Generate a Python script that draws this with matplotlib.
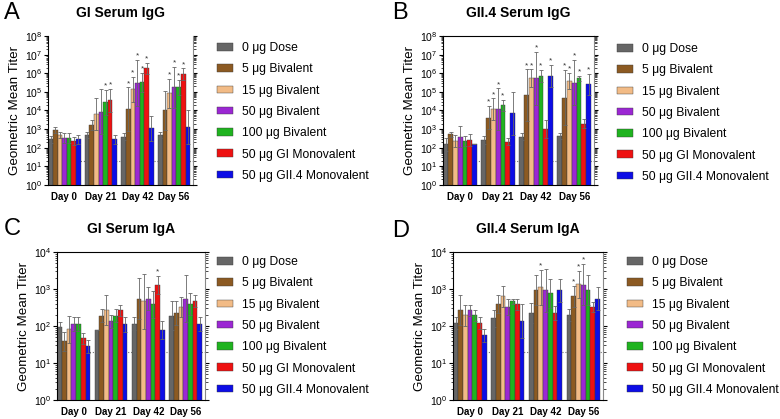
import matplotlib
matplotlib.use("Agg")
import numpy as np
import matplotlib.pyplot as plt

plt.rcParams["font.family"] = ["Liberation Sans", "DejaVu Sans"]
plt.rcParams["mathtext.fontset"] = "custom"
plt.rcParams["mathtext.rm"] = "Liberation Sans"

days = ["Day 0", "Day 21", "Day 42", "Day 56"]
groups = ["0 \u03bcg Dose", "5 \u03bcg Bivalent", "15 \u03bcg Bivalent", "50 \u03bcg Bivalent",
          "100 \u03bcg Bivalent", "50 \u03bcg GI Monovalent", "50 \u03bcg GII.4 Monovalent"]
colors = ["#666666", "#8c5a22", "#f2bb86", "#9b27d3", "#1fb31f", "#ee1111", "#0d0de6"]

# GI serum IgG: mean titer per group (rows) at each day (cols), and top of error bar
gi_igg = [[280, 480, 400, 480],
          [900, 1650, 12000, 10000],
          [480, 6200, 135000, 83000],
          [320, 8700, 290000, 175000],
          [320, 27000, 320000, 175000],
          [230, 36000, 1800000, 900000],
          [280, 280, 1100, 1300]]
gi_igg_hi = [[450, 700, 600, 700],
             [1350, 3000, 175000, 115000],
             [730, 45000, 650000, 500000],
             [600, 135000, 5000000, 2200000],
             [600, 130000, 1000000, 450000],
             [400, 150000, 3700000, 1800000],
             [500, 500, 5000, 10000]]
# groups marked with * at each day
gi_igg_star = [[], [4, 5], [1, 2, 3, 4, 5], [2, 3, 4, 5]]

gii_igg = [[150, 260, 390, 450],
           [530, 4100, 68000, 49000],
           [230, 11500, 530000, 380000],
           [390, 11500, 530000, 310000],
           [230, 19000, 700000, 530000],
           [260, 210, 1000, 2000],
           [150, 7000, 700000, 250000]]
gii_igg_hi = [[320, 420, 600, 650],
              [730, 17000, 1600000, 1500000],
              [500, 45000, 1600000, 1000000],
              [1450, 155000, 14000000, 5000000],
              [450, 37000, 1500000, 700000],
              [520, 320, 3000, 3700],
              [150, 100000, 2800000, 900000]]
gii_igg_star = [[], [1, 2, 3, 4], [1, 2, 3, 4, 6], [1, 2, 3, 4, 6]]

gi_iga = [[96, 78, 116, 190],
          [39, 187, 550, 225],
          [81, 264, 465, 325],
          [111, 134, 550, 550],
          [111, 187, 385, 390],
          [47, 264, 1300, 465],
          [28, 111, 80, 115]]
gi_iga_hi = [[130, 78, 170, 465],
             [70, 280, 2000, 465],
             [187, 670, 2600, 590],
             [170, 200, 1150, 2350],
             [170, 280, 900, 780],
             [66, 380, 2250, 670],
             [43, 175, 140, 175]]
gi_iga_star = [[], [], [5], []]

gii_iga = [[117, 160, 225, 195],
           [270, 390, 920, 630],
           [195, 630, 1100, 1350],
           [270, 330, 920, 1300],
           [195, 465, 760, 940],
           [117, 390, 225, 330],
           [56, 137, 930, 550]]
gii_iga_hi = [[170, 275, 410, 280],
              [680, 680, 2350, 1200],
              [380, 1180, 3300, 3100],
              [380, 550, 3500, 4700],
              [275, 550, 1900, 2350],
              [170, 550, 340, 450],
              [85, 390, 1900, 1100]]
gii_iga_star = [[], [], [2], [1, 2, 3]]

W, H = 780, 419
fig = plt.figure(figsize=(W / 100, H / 100), dpi=100)


def px_axes(left, top, right, bottom):
    return fig.add_axes([left / W, 1 - bottom / H, (right - left) / W, (bottom - top) / H])


def draw_panel(ax, means, highs, stars, ymax, title, top_spine=True):
    means = np.array(means, dtype=float)
    highs = np.array(highs, dtype=float)
    w = 0.126
    x = np.arange(len(days))
    bars = []
    for i in range(len(groups)):
        xi = x + (i - 3) * w
        m = means[i]
        hi = np.maximum(highs[i], m)
        lo = m * m / hi
        b = ax.bar(xi, m, width=w, color=colors[i], edgecolor="#3a3a3a", linewidth=0.3,
                   label=groups[i], zorder=2)
        ax.errorbar(xi, m, yerr=[m - lo, hi - m], fmt="none", ecolor="#666666",
                    elinewidth=0.6, capsize=1.2, capthick=0.6, zorder=3)
        bars.append(b)
    for d, idx in enumerate(stars):
        for i in idx:
            hi = max(highs[i][d], means[i][d])
            ax.text(d + (i - 3) * w, hi * 1.05, "*", ha="center", va="bottom",
                    fontsize=6, color="#333333")
    ax.axhline(20, color="#777777", linestyle=":", linewidth=0.8, zorder=1)
    ax.set_yscale("log")
    ax.set_ylim(1, ymax)
    ax.set_xlim(-0.45, 3.52)
    ax.set_xticks(x)
    ax.set_xticklabels(days, fontsize=7, fontweight="bold")
    ax.tick_params(axis="x", length=0, pad=5)
    ax.tick_params(axis="y", which="both", direction="out", right=True, labelsize=7.5, pad=1)
    ax.tick_params(axis="y", which="major", length=3, width=0.8)
    ax.tick_params(axis="y", which="minor", length=1.8, width=0.5)
    ax.yaxis.set_major_locator(matplotlib.ticker.LogLocator(base=10, numticks=20))
    ax.yaxis.set_minor_locator(matplotlib.ticker.LogLocator(base=10, subs=np.arange(2, 10), numticks=20))
    for s in ["left", "bottom", "right", "top"]:
        ax.spines[s].set_linewidth(0.8)
    ax.spines["top"].set_visible(top_spine)
    ax.spines["right"].set_color("#888888")
    ax.set_ylabel("Geometric Mean Titer", fontsize=9.6, labelpad=3)
    ax.set_title(title, fontsize=10, fontweight="bold", pad=14)
    return bars


def add_legend(bars, x_left, y_top):
    fig.legend(bars, groups, loc="upper left", bbox_to_anchor=(x_left / W, 1 - y_top / H),
               bbox_transform=fig.transFigure, frameon=False, fontsize=8.7,
               handlelength=1.35, handleheight=0.6, handletextpad=0.7,
               labelspacing=0.77, borderpad=0, borderaxespad=0)


ax_a = px_axes(48, 36, 193, 185)
ax_b = px_axes(443, 36, 594, 185)
ax_c = px_axes(57, 252, 205, 400)
ax_d = px_axes(453, 252, 603, 400)

bars = draw_panel(ax_a, gi_igg, gi_igg_hi, gi_igg_star, 1e8, "GI Serum IgG", top_spine=False)
draw_panel(ax_b, gii_igg, gii_igg_hi, gii_igg_star, 1e8, "GII.4 Serum IgG")
draw_panel(ax_c, gi_iga, gi_iga_hi, gi_iga_star, 1e4, "GI Serum IgA")
draw_panel(ax_d, gii_iga, gii_iga_hi, gii_iga_star, 1e4, "GII.4 Serum IgA")

add_legend(bars, 217, 42)
add_legend(bars, 617, 43)
add_legend(bars, 217, 256)
add_legend(bars, 627, 256)

for letter, (lx, ly) in zip("ABCD", [(4, 2), (392, 2), (4, 218), (392, 220)]):
    fig.text(lx / W, 1 - ly / H, letter, fontsize=17, va="top", ha="left")

fig.savefig("out.png", dpi=100)
